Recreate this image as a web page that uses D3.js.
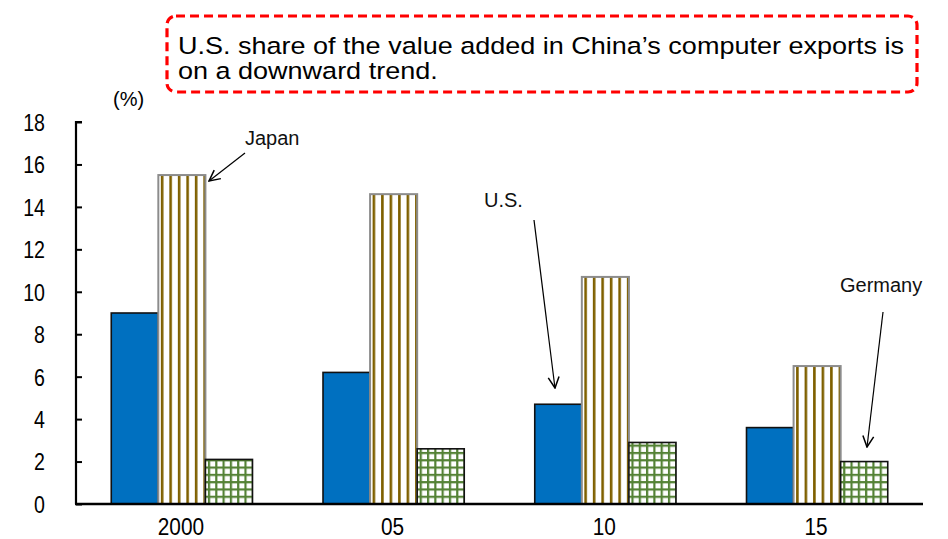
<!DOCTYPE html>
<html>
<head>
<meta charset="utf-8">
<script src="https://cdn.jsdelivr.net/npm/d3@7"></script>
<style>
  html, body { margin: 0; padding: 0; background: #fff; }
  svg { display: block; }
</style>
</head>
<body>
<svg id="chart" width="948" height="539"></svg>
<script>
// Share of value added in China's computer exports, by country (%)
const years = ["2000", "05", "10", "15"];
const seriesNames = ["U.S.", "Japan", "Germany"];
const usValues = [9.0, 6.2, 4.7, 3.6];
const japanValues = [15.5, 14.6, 10.7, 6.5];
const germanyValues = [2.1, 2.6, 2.9, 2.0];
const yTicks = [0, 2, 4, 6, 8, 10, 12, 14, 16, 18];
const unitLabel = "(%)";
const noteLines = [
  "U.S. share of the value added in China\u2019s computer exports is",
  "on a downward trend."
];

const seriesValues = [usValues, japanValues, germanyValues];

const svg = d3.select("#chart");
const margin = { left: 76, right: 25, top: 122, bottom: 35 };
const W = 948, H = 539;
const plotW = W - margin.left - margin.right;
const plotH = H - margin.top - margin.bottom;

const x0 = d3.scaleBand().domain(years).range([margin.left, margin.left + plotW])
  .paddingInner(0.333).paddingOuter(0.1665);
const x1 = d3.scaleBand().domain(seriesNames).range([0, x0.bandwidth()]);
const y = d3.scaleLinear().domain([0, 18]).range([margin.top + plotH, margin.top]);

const defs = svg.append("defs");

const rows = [];
years.forEach((yr, i) => {
  seriesNames.forEach((s, j) => {
    rows.push({ year: yr, series: s, value: seriesValues[j][i], idx: i });
  });
});

// per-bar patterns so stripes/grids start at each bar's left edge
rows.forEach(d => {
  const bx = x0(d.year) + x1(d.series);
  if (d.series === "Japan") {
    const p = defs.append("pattern")
      .attr("id", "jp" + d.idx)
      .attr("patternUnits", "userSpaceOnUse")
      .attr("x", bx + 2.5).attr("y", 0)
      .attr("width", 8.5).attr("height", 10);
    p.append("rect").attr("width", 8.5).attr("height", 10).attr("fill", "#fff");
    p.append("rect").attr("x", 0).attr("y", 0).attr("width", 2.6).attr("height", 10).attr("fill", "#7f6000");
  } else if (d.series === "Germany") {
    const step = 7.3;
    const p = defs.append("pattern")
      .attr("id", "de" + d.idx)
      .attr("patternUnits", "userSpaceOnUse")
      .attr("x", bx + 2.5).attr("y", y(0) - 1)
      .attr("width", step).attr("height", step);
    p.append("rect").attr("width", step).attr("height", step).attr("fill", "#fff");
    p.append("rect").attr("x", 0).attr("y", 0).attr("width", 2.2).attr("height", step).attr("fill", "#548235");
    p.append("rect").attr("x", 0).attr("y", 0).attr("width", step).attr("height", 2.2).attr("fill", "#548235");
  }
});

// bars
svg.append("g").selectAll("rect").data(rows).join("rect")
  .attr("x", d => x0(d.year) + x1(d.series))
  .attr("y", d => y(d.value))
  .attr("width", x1.bandwidth())
  .attr("height", d => y(0) - y(d.value))
  .attr("fill", d => d.series === "U.S." ? "#0070c0" : d.series === "Japan" ? `url(#jp${d.idx})` : `url(#de${d.idx})`)
  .attr("stroke", d => d.series === "Japan" ? "#8c8c8c" : "#111")
  .attr("stroke-width", d => d.series === "Japan" ? 2 : 1.6);

// y axis (ticks point inward)
const yAxis = d3.axisRight(y).tickValues(yTicks).tickSize(6).tickFormat("");
const gy = svg.append("g").attr("transform", `translate(${margin.left},0)`).call(yAxis);
gy.select(".domain").attr("stroke", "#000").attr("stroke-width", 2.2).attr("d", `M${6},${y(18)}H0V${y(0)}`);
gy.selectAll(".tick line").attr("stroke", "#000").attr("stroke-width", 2);

// condensed numerals for axis labels
const numFont = "'Liberation Sans', Arial, sans-serif";
svg.append("g").selectAll("text").data(yTicks).join("text")
  .attr("transform", d => `translate(45,${y(d)}) scale(0.8,1)`)
  .attr("dy", "0.36em")
  .attr("text-anchor", "end")
  .attr("font-family", numFont)
  .attr("font-size", 24.5)
  .attr("fill", "#000")
  .text(d => d);

// x axis baseline
const xAxis = d3.axisBottom(x0).tickSize(0).tickFormat("");
const gx = svg.append("g").attr("transform", `translate(0,${y(0)})`).call(xAxis);
gx.select(".domain").attr("stroke", "#000").attr("stroke-width", 2.4)
  .attr("d", `M${margin.left - 1},0H${margin.left + plotW}`);

svg.append("g").selectAll("text").data(years).join("text")
  .attr("transform", d => `translate(${x0(d) + x0.bandwidth() / 2 - 1},535) scale(0.85,1)`)
  .attr("text-anchor", "middle")
  .attr("font-family", numFont)
  .attr("font-size", 24.5)
  .attr("fill", "#000")
  .text(d => d);

// unit label
svg.append("text").attr("x", 113).attr("y", 106)
  .attr("font-family", "'Liberation Sans', Arial, sans-serif")
  .attr("font-size", 20).attr("fill", "#000").text(unitLabel);

// note box
svg.append("rect")
  .attr("x", 167).attr("y", 16).attr("width", 750).attr("height", 76)
  .attr("rx", 9).attr("ry", 9)
  .attr("fill", "#fff").attr("stroke", "#ff0000")
  .attr("stroke-width", 3.2).attr("stroke-dasharray", "9,5");

const note = svg.append("g");
noteLines.forEach((t, i) => {
  note.append("text")
    .attr("x", 178).attr("y", 54 + i * 24.5)
    .attr("font-family", "'Liberation Sans', Arial, sans-serif")
    .attr("font-size", 24.5).attr("fill", "#000")
    .text(t);
});
// stretch the first line to span the box
const first = note.select("text");
const natural = first.node().getComputedTextLength();
first.attr("textLength", 726).attr("lengthAdjust", "spacingAndGlyphs");
const ratio = 726 / natural;
const second = d3.select(note.selectAll("text").nodes()[1]);
second.attr("textLength", second.node().getComputedTextLength() * ratio)
  .attr("lengthAdjust", "spacingAndGlyphs");

// series callouts with arrows
defs.append("marker").attr("id", "arrowhead")
  .attr("viewBox", "0 0 12 12").attr("refX", 11).attr("refY", 6)
  .attr("markerWidth", 13).attr("markerHeight", 13).attr("markerUnits", "userSpaceOnUse")
  .attr("orient", "auto")
  .append("path").attr("d", "M1,1L11,6L1,11").attr("fill", "none")
  .attr("stroke", "#000").attr("stroke-width", 1.4);

const callouts = [
  { text: "Japan", tx: 245, ty: 145, line: [[245, 153], [209, 181]] },
  { text: "U.S.", tx: 484, ty: 207, line: [[534, 220], [555, 388]] },
  { text: "Germany", tx: 840, ty: 292, line: [[883, 312], [867, 447]] }
];
const cg = svg.append("g");
callouts.forEach(c => {
  cg.append("text").attr("x", c.tx).attr("y", c.ty)
    .attr("font-family", "'Liberation Sans', Arial, sans-serif")
    .attr("font-size", 20).attr("fill", "#111").text(c.text);
  cg.append("line")
    .attr("x1", c.line[0][0]).attr("y1", c.line[0][1])
    .attr("x2", c.line[1][0]).attr("y2", c.line[1][1])
    .attr("stroke", "#000").attr("stroke-width", 1.2)
    .attr("marker-end", "url(#arrowhead)");
});
</script>
</body>
</html>
